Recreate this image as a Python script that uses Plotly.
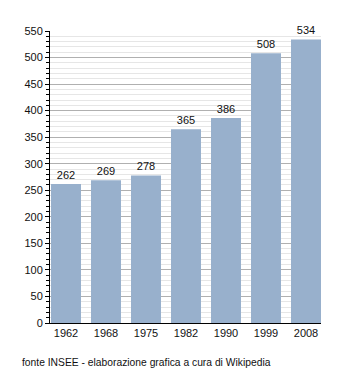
import plotly.graph_objects as go

years = ["1962", "1968", "1975", "1982", "1990", "1999", "2008"]
population = [262, 269, 278, 365, 386, 508, 534]
source_note = "fonte INSEE - elaborazione grafica a cura di Wikipedia"

font_family = "Liberation Sans, Arial, sans-serif"

fig = go.Figure()
fig.add_trace(go.Bar(
    x=years, y=population,
    marker=dict(color="#98b0cc", line=dict(width=0)),
    text=[str(v) for v in population],
    textposition="outside",
    textfont=dict(size=11, color="#111111", family=font_family),
    cliponaxis=False,
))

fig.update_layout(
    width=350, height=373,
    margin=dict(l=50, r=29, t=31, b=50),
    paper_bgcolor="white", plot_bgcolor="white",
    bargap=0.25,
    showlegend=False,
    font=dict(family=font_family, size=11, color="#111111"),
    xaxis=dict(
        type="category",
        range=[-0.4, 6.375],
        showline=True, linecolor="#000000", linewidth=1,
        ticks="", showgrid=False,
        tickfont=dict(size=11),
    ),
    yaxis=dict(
        range=[0, 550],
        tick0=0, dtick=50,
        showline=True, linecolor="#000000", linewidth=1,
        ticks="outside", ticklen=4, tickcolor="#000000",
        showgrid=True, gridcolor="#b0b0b0", gridwidth=1,
        zeroline=False,
        tickfont=dict(size=11),
        minor=dict(dtick=10, ticks="outside", ticklen=3, tickcolor="#000000",
                   showgrid=True, gridcolor="#e6e6e6", gridwidth=1),
    ),
    annotations=[dict(
        text=source_note, xref="paper", yref="paper",
        x=-30/271, y=-39/292, xanchor="left", yanchor="middle",
        showarrow=False, font=dict(size=10.3, color="#111111"),
    )],
)

fig.write_html("out.html")
